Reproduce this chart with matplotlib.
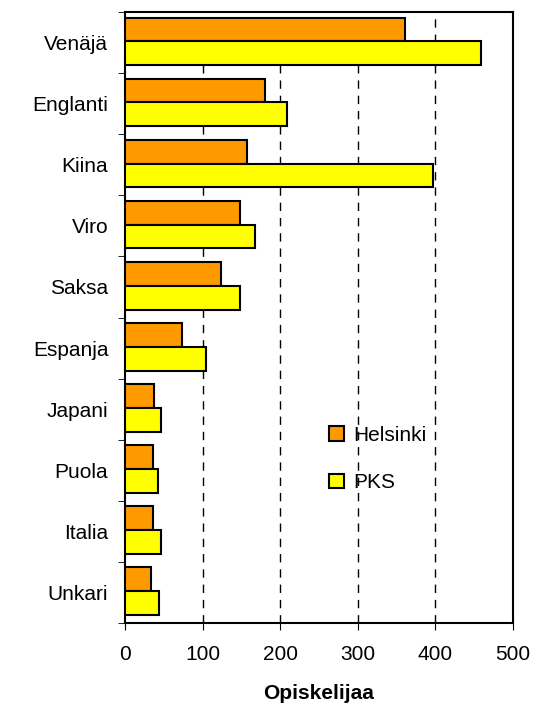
import numpy as np
import matplotlib
matplotlib.use('Agg')
import matplotlib.pyplot as plt

plt.rcParams['font.family'] = ['Liberation Sans', 'DejaVu Sans']

# Data
languages = ['Venäjä', 'Englanti', 'Kiina', 'Viro', 'Saksa',
             'Espanja', 'Japani', 'Puola', 'Italia', 'Unkari']
helsinki = [361, 181, 157, 148, 124, 74, 38, 36, 36, 33]
pks = [459, 209, 397, 167, 148, 105, 47, 42, 47, 44]

fig = plt.figure(figsize=(5.4, 7.09), dpi=100)
ax = fig.add_axes([0.2315, 0.1213, 0.7185, 0.8617])

y = np.arange(len(languages))
h = 0.39
ax.barh(y - h / 2 - 0.02, helsinki, height=h, color='#FF9900',
        edgecolor='black', linewidth=1.5, label='Helsinki', zorder=3)
ax.barh(y + h / 2 - 0.02, pks, height=h, color='#FFFF00',
        edgecolor='black', linewidth=1.5, label='PKS', zorder=3)

ax.set_xlim(0, 500)
ax.set_ylim(len(languages) - 0.5, -0.5)
ax.set_xticks([0, 100, 200, 300, 400, 500])
ax.set_yticks(y)
ax.set_yticklabels(languages, fontsize=15)
ax.set_yticks(np.arange(-0.5, len(languages), 1), minor=True)
ax.tick_params(axis='y', which='major', length=0, pad=12)
ax.tick_params(axis='y', which='minor', length=5, direction='out')
ax.tick_params(axis='x', labelsize=15, length=5, direction='out', pad=11)

for xv in [100, 200, 300, 400]:
    ax.axvline(xv, color='black', linestyle=(0, (6, 5)), linewidth=1, zorder=1)

for s in ax.spines.values():
    s.set_linewidth(1.5)

ax.set_xlabel('Opiskelijaa', fontsize=15, fontweight='bold', labelpad=14)

ax.legend(loc='upper left', bbox_to_anchor=(0.609, 0.399),
          bbox_transform=fig.transFigure, frameon=False,
          fontsize=15, handlelength=0.72, handleheight=0.72,
          labelspacing=1.35, handletextpad=0.45, borderpad=0, borderaxespad=0)

fig.savefig('out.png', dpi=100)
